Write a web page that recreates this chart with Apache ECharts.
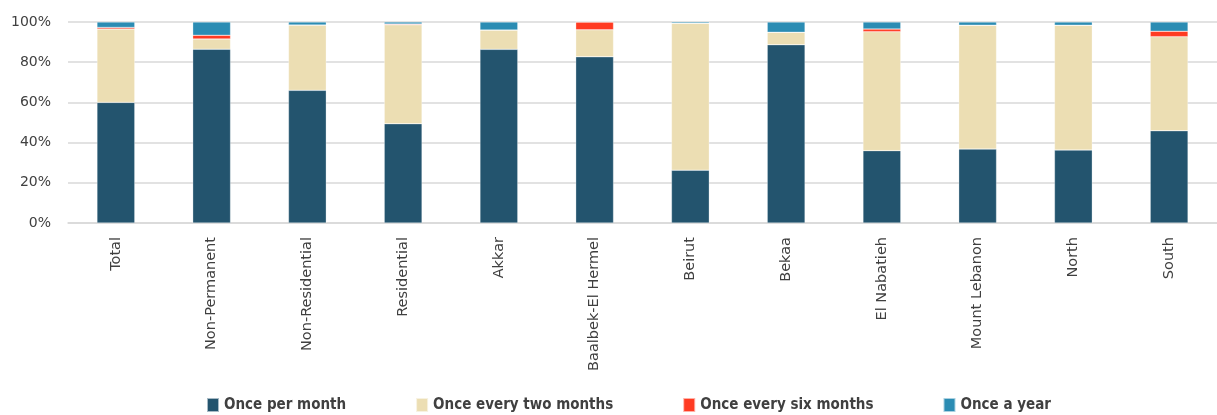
<!DOCTYPE html>
<html>
<head>
<meta charset="utf-8">
<script src="https://cdn.jsdelivr.net/npm/echarts@6/dist/echarts.min.js"></script>
<style>
html,body{margin:0;padding:0;background:#fff;}
#chart{width:1217px;height:415px;}
</style>
</head>
<body>
<div id="chart"></div>
<script>
const categories = ["Total","Non-Permanent","Non-Residential","Residential","Akkar","Baalbek-El Hermel","Beirut","Bekaa","El Nabatieh","Mount Lebanon","North","South"];
const oncePerMonth      = [60.0, 86.5, 66.0, 49.4, 86.4, 82.7, 26.3, 88.7, 36.0, 36.8, 36.3, 45.9];
const onceEveryTwo      = [36.5,  5.1, 32.5, 49.2,  9.6, 13.4, 73.1,  6.2, 59.2, 61.6, 62.1, 46.8];
const onceEverySix      = [ 0.8,  1.8,  0.0,  0.4,  0.0,  3.9,  0.0,  0.0,  1.3,  0.0,  0.0,  2.7];
const onceAYear         = [ 2.7,  6.6,  1.5,  1.0,  4.0,  0.0,  0.6,  5.1,  3.5,  1.6,  1.6,  4.6];
const seriesNames = ["Once per month","Once every two months","Once every six months","Once a year"];
const yTicks = [0,20,40,60,80,100];

const colors = ["#23546e","#ecdeb3","#ff3b22","#2b8cb3"];
const chart = echarts.init(document.getElementById('chart'));
const dataSets = [oncePerMonth, onceEveryTwo, onceEverySix, onceAYear];
chart.setOption({
  animation:false,
  grid:{left:68, top:22, width:1158, height:201, containLabel:false},
  legend:{
    left:201, top:392, itemWidth:12, itemHeight:14, itemGap:69,
    icon:'rect',
    textStyle:{fontFamily:'"DejaVu Sans Condensed", "DejaVu Sans", sans-serif', fontWeight:'bold', fontSize:15, color:'#404040'},
    data:seriesNames
  },
  xAxis:{
    type:'category', data:categories,
    axisTick:{show:false},
    axisLine:{lineStyle:{color:'#d9d9d9', width:1.5}},
    axisLabel:{rotate:90, margin:14, fontFamily:'"DejaVu Sans", sans-serif', fontSize:14.5, color:'#404040', interval:0}
  },
  yAxis:{
    type:'value', min:0, max:100, interval:20,
    axisLabel:{formatter:v=>v+'%', fontFamily:'"DejaVu Sans", sans-serif', fontSize:14, color:'#404040', margin:17},
    splitLine:{lineStyle:{color:'#d9d9d9', width:1.5}},
    axisLine:{show:false}, axisTick:{show:false}
  },
  series: seriesNames.map((n,i)=>({
    name:n, type:'bar', stack:'all', barWidth:'39.5%',
    itemStyle:{color:colors[i], borderColor:'rgba(255,255,255,0.6)', borderWidth:0.5},
    data:dataSets[i]
  }))
});
</script>
</body>
</html>
